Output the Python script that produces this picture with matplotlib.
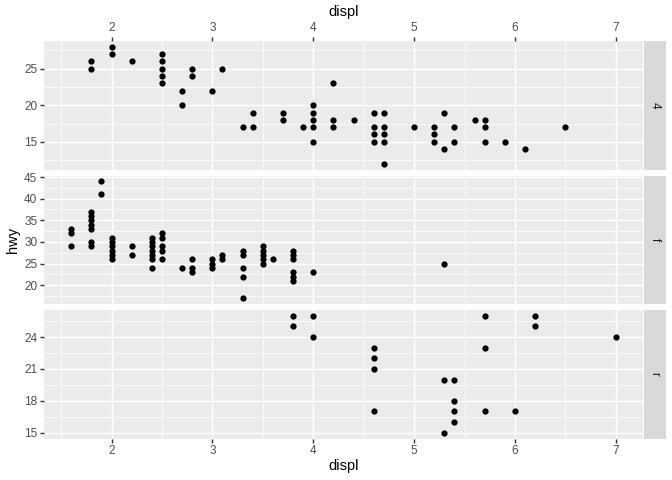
import matplotlib
matplotlib.use('Agg')
import matplotlib.pyplot as plt
import numpy as np

plt.rcParams['font.family'] = ['Liberation Sans', 'DejaVu Sans']

facets = ['4', 'f', 'r']

# drv = 4
displ_4 = [1.8, 1.8, 2.0, 2.0, 2.2, 2.5, 2.5, 2.5, 2.5, 2.5, 2.7, 2.7, 2.8, 2.8,
           3.0, 3.1, 3.3, 3.4, 3.4, 3.7, 3.7, 3.9, 4.0, 4.0, 4.0, 4.0, 4.0,
           4.2, 4.2, 4.2, 4.4, 4.6, 4.6, 4.6, 4.6, 4.7, 4.7, 4.7, 4.7, 4.7,
           5.0, 5.2, 5.2, 5.2, 5.3, 5.3, 5.4, 5.4, 5.6, 5.7, 5.7, 5.7, 5.9, 6.1, 6.5]
hwy_4 = [26, 25, 28, 27, 26, 27, 26, 25, 24, 23, 22, 20, 25, 24,
         22, 25, 17, 19, 17, 19, 18, 17, 20, 19, 18, 17, 15,
         23, 18, 17, 18, 19, 17, 16, 15, 19, 17, 16, 15, 12,
         17, 17, 16, 15, 19, 14, 17, 15, 18, 18, 17, 15, 15, 14, 17]

# drv = f
displ_f = [1.6, 1.6, 1.6, 1.8, 1.8, 1.8, 1.8, 1.8, 1.8, 1.8, 1.9, 1.9,
           2.0, 2.0, 2.0, 2.0, 2.0, 2.0, 2.2, 2.2,
           2.4, 2.4, 2.4, 2.4, 2.4, 2.4, 2.4, 2.5, 2.5, 2.5, 2.5, 2.5,
           2.7, 2.8, 2.8, 2.8, 3.0, 3.0, 3.0, 3.1, 3.1,
           3.3, 3.3, 3.3, 3.3, 3.3, 3.5, 3.5, 3.5, 3.5, 3.5, 3.6,
           3.8, 3.8, 3.8, 3.8, 3.8, 3.8, 4.0, 5.3]
hwy_f = [33, 32, 29, 37, 36, 35, 34, 33, 30, 29, 44, 41,
         31, 30, 29, 28, 27, 26, 29, 27,
         31, 30, 29, 28, 27, 26, 24, 32, 31, 29, 28, 26,
         24, 26, 24, 23, 26, 25, 24, 27, 26,
         28, 27, 24, 22, 17, 29, 28, 27, 26, 25, 26,
         28, 27, 26, 23, 22, 21, 23, 25]

# drv = r
displ_r = [3.8, 3.8, 4.0, 4.0, 4.6, 4.6, 4.6, 4.6, 5.3, 5.3, 5.4, 5.4, 5.4, 5.4,
           5.7, 5.7, 5.7, 6.0, 6.2, 6.2, 7.0]
hwy_r = [26, 25, 26, 24, 23, 22, 21, 17, 20, 15, 20, 18, 17, 16,
         26, 23, 17, 17, 26, 25, 24]

x_breaks = [2, 3, 4, 5, 6, 7]
y_breaks = {'4': [15, 20, 25], 'f': [20, 25, 30, 35, 40, 45], 'r': [15, 18, 21, 24]}
y_minor = {'4': [12.5, 17.5, 22.5, 27.5], 'f': [17.5, 22.5, 27.5, 32.5, 37.5, 42.5],
           'r': [16.5, 19.5, 22.5, 25.5]}
data = {'4': (displ_4, hwy_4), 'f': (displ_f, hwy_f), 'r': (displ_r, hwy_r)}

W, H = 672, 480
fig = plt.figure(figsize=(7, 5), dpi=96)
fig.patch.set_facecolor('white')

left, right = 44, 643
tops = [41, 175.5, 310]
ph = 128.5
strip_w = 22

def expand(lo, hi, m=0.05):
    r = hi - lo
    return lo - m * r, hi + m * r

allx = displ_4 + displ_f + displ_r
xlim = expand(min(allx), max(allx))

for i, f in enumerate(facets):
    x, y = data[f]
    ax = fig.add_axes([left / W, 1 - (tops[i] + ph) / H, (right - left) / W, ph / H])
    ax.set_facecolor('#EBEBEB')
    for s in ax.spines.values():
        s.set_visible(False)
    ax.set_xlim(*xlim)
    ax.set_ylim(*expand(min(y), max(y)))
    for v in [1.5, 2.5, 3.5, 4.5, 5.5, 6.5]:
        ax.axvline(v, color='white', lw=0.53, zorder=0.5)
    for v in x_breaks:
        ax.axvline(v, color='white', lw=1.07, zorder=0.6)
    for v in y_minor[f]:
        ax.axhline(v, color='white', lw=0.53, zorder=0.5)
    for v in y_breaks[f]:
        ax.axhline(v, color='white', lw=1.07, zorder=0.6)
    ax.scatter(x, y, s=22, color='black', linewidths=0, zorder=3)
    ax.set_yticks(y_breaks[f])
    ax.set_xticks(x_breaks)
    ax.tick_params(axis='both', length=3.7 * 72 / 96, width=1.07, color='#333333',
                   labelsize=8.8, labelcolor='#4D4D4D', pad=2.2)
    if i == 0:
        ax.tick_params(axis='x', top=True, labeltop=True, bottom=False, labelbottom=False)
    elif i == 2:
        ax.tick_params(axis='x', top=False, labeltop=False, bottom=True, labelbottom=True)
    else:
        ax.tick_params(axis='x', top=False, labeltop=False, bottom=False, labelbottom=False)

    sax = fig.add_axes([(right + 0.5) / W, 1 - (tops[i] + ph) / H, strip_w / W, ph / H])
    sax.set_facecolor('#D9D9D9')
    for s in sax.spines.values():
        s.set_visible(False)
    sax.set_xticks([])
    sax.set_yticks([])
    sax.text(0.5, 0.5, f, rotation=-90, ha='center', va='center', fontsize=8.8,
             color='#1A1A1A', transform=sax.transAxes)

fig.text((left + right) / 2 / W, 1 - 12 / H, 'displ', ha='center', va='center', fontsize=11, color='black')
fig.text((left + right) / 2 / W, 1 - 466 / H, 'displ', ha='center', va='center', fontsize=11, color='black')
fig.text(13 / W, 1 - ((tops[0] + tops[2] + ph) / 2) / H, 'hwy', ha='center', va='center',
         rotation=90, fontsize=11, color='black')

fig.savefig('out.png', dpi=96)
